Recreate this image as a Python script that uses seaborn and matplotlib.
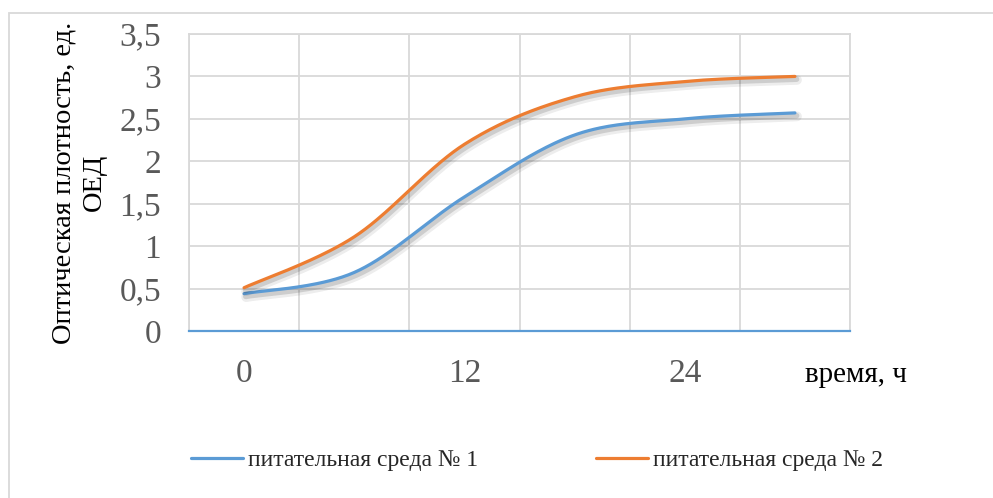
import numpy as np
import pandas as pd
import matplotlib
matplotlib.use('Agg')
import matplotlib.pyplot as plt
import matplotlib.patheffects as pe
from matplotlib.lines import Line2D
from matplotlib.patches import Rectangle
import seaborn as sns

# values
hours = [0, 6, 12, 18, 24, 30]
medium_1 = [0.44, 0.69, 1.58, 2.31, 2.50, 2.57]
medium_2 = [0.51, 1.11, 2.20, 2.76, 2.94, 3.00]
series_names = ['питательная среда № 1', 'питательная среда № 2']
colors = ['#5b9bd5', '#ed7d31']
x_tick_values = [0, 12, 24]
y_tick_values = [0, 0.5, 1, 1.5, 2, 2.5, 3, 3.5]
y_tick_labels = ['0', '0,5', '1', '1,5', '2', '2,5', '3', '3,5']


def smooth(xs, ys, n=40):
    """Excel-like smoothed line: a cubic Bezier between each pair of points."""
    pts = np.column_stack([xs, ys]).astype(float)
    t = np.linspace(0, 1, n)[:, None]
    segs = []
    for i in range(len(pts) - 1):
        p0, p3 = pts[i], pts[i + 1]
        prev = pts[i - 1] if i > 0 else p0
        nxt = pts[i + 2] if i + 2 < len(pts) else p3
        c1 = p0 + (p3 - prev) / 6
        c2 = p3 - (nxt - p0) / 6
        seg = (1 - t) ** 3 * p0 + 3 * (1 - t) ** 2 * t * c1 + 3 * (1 - t) * t ** 2 * c2 + t ** 3 * p3
        segs.append(seg if i == 0 else seg[1:])
    out = np.vstack(segs)
    return out[:, 0], out[:, 1]


frames = []
for name, vals in zip(series_names, [medium_1, medium_2]):
    sx, sy = smooth(hours, vals)
    frames.append(pd.DataFrame({'x': sx, 'y': sy, 'series': name}))
df = pd.concat(frames, ignore_index=True)

sns.set_theme(style='white')
plt.rcParams['font.family'] = ['Liberation Serif', 'DejaVu Serif']

fig = plt.figure(figsize=(9.93, 4.98), dpi=100)
ax = fig.add_axes([189 / 993, 1 - 331 / 498, 661 / 993, 297 / 498])

sns.lineplot(data=df, x='x', y='y', hue='series', palette=colors, sort=False,
             estimator=None, linewidth=2.3, legend=False, ax=ax)
for line in ax.lines:
    line.set_path_effects([pe.SimpleLineShadow(offset=(1.5, -2.5), alpha=0.08, linewidth=7),
                           pe.SimpleLineShadow(offset=(1.2, -2), alpha=0.15, linewidth=4),
                           pe.Normal()])

ax.set_xlim(-3, 33)
ax.set_ylim(0, 3.5)
ax.set_xticks(x_tick_values)
ax.set_xticks(np.arange(-3, 34, 6), minor=True)
ax.set_yticks(y_tick_values)
ax.set_yticklabels(y_tick_labels)
ax.grid(which='minor', axis='x', color='#d9d9d9', lw=1.3)
ax.grid(which='major', axis='y', color='#d9d9d9', lw=1.3)
ax.grid(which='major', axis='x', visible=False)
ax.tick_params(which='both', length=0)
ax.tick_params(axis='y', labelsize=24, labelcolor='#595959', pad=20)
ax.tick_params(axis='x', labelsize=24, labelcolor='#595959', pad=20)
for s in ['left', 'right', 'top']:
    ax.spines[s].set_color('#d9d9d9')
    ax.spines[s].set_linewidth(1.3)
ax.spines['bottom'].set_color('#5b9bd5')
ax.spines['bottom'].set_linewidth(1.6)
ax.set_xlabel('')
ax.set_ylabel('Оптическая плотность, ед.\nОЕД', fontsize=20.5, color='black',
              linespacing=1.3)
ax.yaxis.set_label_coords(-0.124, 0.5)

fig.text(805 / 993, 1 - 375 / 498, 'время, ч', fontsize=21, color='black',
         ha='left', va='center')

handles = [Line2D([], [], color=c, lw=2.3) for c in colors]
fig.legend(handles, series_names, loc='center', bbox_to_anchor=(537 / 993, 1 - 460 / 498),
           ncol=2, frameon=False, fontsize=17, handlelength=2.2, handletextpad=0.2,
           columnspacing=5.0)

# outer chart border, cut off at right and bottom like the reference
fig.patches.append(Rectangle((9 / 993, -0.2), 1.2, 1.2 - 13 / 498,
                             transform=fig.transFigure, fill=False,
                             edgecolor='#d9d9d9', lw=1.3))

fig.savefig('out.png', dpi=100)
